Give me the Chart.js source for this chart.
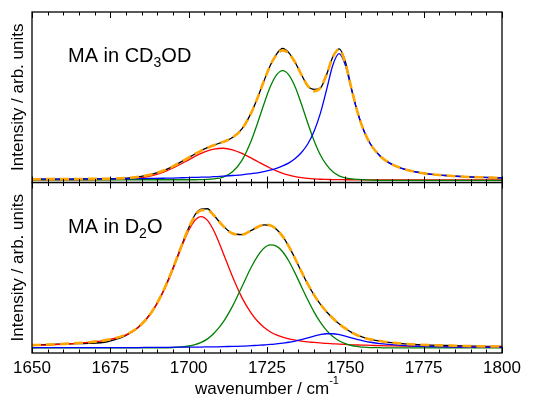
<!DOCTYPE html>
<html>
<head>
<meta charset="utf-8">
<script src="https://cdn.jsdelivr.net/npm/chart.js@4.4.1/dist/chart.umd.min.js"></script>
<style>
  html, body { margin: 0; padding: 0; background: #fff; }
</style>
</head>
<body>
<canvas id="irChart" width="541" height="398"></canvas>
<script>
// wavenumber grid (cm-1), shared by both panels
var wavenumbers = [1650, 1656, 1662, 1668, 1674, 1680, 1684, 1688, 1692, 1695, 1698,
  1700, 1702, 1704, 1706, 1708, 1711, 1714, 1717, 1720, 1722, 1724, 1726, 1728, 1730,
  1732, 1734, 1736, 1738, 1740, 1742, 1744, 1746, 1748, 1750, 1752, 1754, 1756, 1758,
  1761, 1764, 1768, 1772, 1777, 1782, 1788, 1794, 1800];
var xTicks = [1650, 1675, 1700, 1725, 1750, 1775, 1800];

// MA in CD3OD (top panel), arb. units
var cd3odData = [1.9, 2.0, 2.0, 2.1, 2.2, 2.6, 3.3, 4.7, 7.0, 9.5, 12.5,
  14.6, 16.7, 18.7, 20.4, 21.9, 23.8, 26.4, 31.4, 41.0, 49.7, 59.4, 68.5, 75.2, 78.6,
  76.0, 70.4, 63.2, 56.7, 54.6, 55.4, 63.2, 73.6, 78.4, 71.0, 54.8, 40.6, 30.0, 22.6,
  15.7, 11.5, 8.3, 6.4, 4.9, 4.1, 3.4, 3.0, 2.7];
var cd3odFit = [1.9, 2.0, 2.0, 2.1, 2.2, 2.6, 3.3, 4.7, 7.0, 9.5, 12.5,
  14.6, 16.7, 18.7, 20.4, 21.9, 23.8, 26.4, 31.4, 41.0, 49.7, 59.4, 68.5, 74.9, 77.5,
  75.6, 70.4, 63.2, 56.7, 53.5, 55.4, 63.2, 73.6, 78.0, 69.9, 54.8, 40.6, 30.0, 22.6,
  15.7, 11.5, 8.3, 6.4, 4.9, 4.1, 3.4, 3.0, 2.7];
var cd3odRed = [1.6, 1.6, 1.6, 1.6, 1.7, 2.0, 2.6, 3.9, 6.1, 8.5, 11.3,
  13.3, 15.3, 17.1, 18.6, 19.6, 20.1, 19.2, 17.1, 14.3, 12.3, 10.3, 8.5, 6.8, 5.4,
  4.3, 3.5, 2.9, 2.4, 2.1, 1.9, 1.8, 1.7, 1.7, 1.6, 1.6, 1.5, 1.5, 1.5,
  1.5, 1.5, 1.5, 1.5, 1.5, 1.5, 1.5, 1.5, 1.5];
var cd3odGreen = [1.6, 1.6, 1.6, 1.6, 1.6, 1.6, 1.6, 1.6, 1.6, 1.6, 1.6,
  1.6, 1.6, 1.7, 1.8, 2.1, 3.2, 6.3, 13.0, 24.7, 34.9, 45.9, 56.0, 63.0, 65.6,
  63.0, 56.0, 45.9, 34.9, 24.7, 16.3, 10.3, 6.3, 3.9, 2.7, 2.1, 1.8, 1.6, 1.4,
  1.3, 1.2, 1.2, 1.2, 1.2, 1.2, 1.2, 1.2, 1.2];
var cd3odBlue = [1.9, 2.0, 2.0, 2.1, 2.1, 2.2, 2.3, 2.4, 2.5, 2.6, 2.8,
  2.9, 3.0, 3.1, 3.2, 3.4, 3.7, 4.1, 4.5, 5.2, 5.7, 6.4, 7.2, 8.3, 9.7,
  11.5, 14.1, 17.6, 22.6, 29.9, 40.4, 54.3, 68.8, 75.6, 68.8, 54.3, 40.4, 29.9, 22.6,
  15.7, 11.5, 8.3, 6.4, 4.9, 4.1, 3.4, 3.0, 2.7];

// MA in D2O (bottom panel), arb. units
var d2oData = [4.6, 5.0, 5.4, 5.6, 6.6, 10.3, 15.3, 23.5, 36.7, 49.8, 64.3,
  73.3, 81.0, 84.4, 84.6, 80.8, 74.5, 70.1, 69.4, 71.9, 73.9, 75.2, 74.9, 72.6, 68.4,
  62.4, 55.3, 47.7, 40.5, 34.1, 28.7, 24.2, 20.4, 17.1, 14.4, 12.1, 10.3, 9.0, 8.0,
  7.0, 6.2, 5.5, 5.0, 4.6, 4.4, 4.1, 3.9, 3.8];
var d2oFit = [4.6, 5.0, 5.5, 6.3, 7.7, 10.8, 15.3, 23.5, 36.7, 49.8, 64.3,
  73.3, 80.2, 83.7, 83.7, 80.8, 74.5, 70.1, 69.4, 71.9, 73.9, 75.2, 74.9, 72.6, 68.4,
  62.4, 55.3, 47.7, 40.5, 34.1, 28.7, 24.2, 20.4, 17.1, 14.4, 12.1, 10.3, 9.0, 8.0,
  7.0, 6.2, 5.5, 5.0, 4.6, 4.4, 4.1, 3.9, 3.8];
var d2oRed = [4.5, 4.8, 5.4, 6.2, 7.6, 10.6, 15.1, 23.2, 36.3, 49.2, 63.3,
  71.8, 77.8, 80.0, 77.8, 71.8, 58.7, 44.7, 32.5, 23.2, 18.6, 15.1, 12.5, 10.6, 9.3,
  8.3, 7.6, 7.0, 6.5, 6.2, 5.9, 5.6, 5.4, 5.2, 5.0, 4.8, 4.7, 4.6, 4.5,
  4.3, 4.2, 4.1, 3.9, 3.8, 3.7, 3.6, 3.5, 3.5];
var d2oGreen = [3.0, 3.0, 3.0, 3.0, 3.0, 3.0, 3.0, 3.0, 3.0, 3.2, 3.6,
  4.1, 4.9, 6.2, 8.3, 11.4, 18.1, 27.5, 38.9, 50.4, 56.8, 61.4, 63.4, 62.7, 59.4,
  53.8, 46.7, 38.9, 31.2, 24.1, 18.1, 13.3, 9.7, 7.2, 5.5, 4.4, 3.8, 3.4, 3.2,
  3.1, 3.0, 3.0, 3.0, 3.0, 3.0, 3.0, 3.0, 3.0];
var d2oBlue = [3.1, 3.1, 3.1, 3.2, 3.2, 3.2, 3.2, 3.3, 3.3, 3.4, 3.4,
  3.4, 3.5, 3.5, 3.6, 3.6, 3.7, 3.9, 4.0, 4.3, 4.5, 4.7, 5.0, 5.3, 5.8,
  6.3, 7.0, 7.8, 8.8, 9.9, 10.8, 11.3, 11.3, 10.8, 9.9, 8.8, 7.8, 7.0, 6.3,
  5.5, 5.0, 4.5, 4.1, 3.8, 3.6, 3.5, 3.4, 3.3];

var FONT = '"Liberation Sans", Arial, Helvetica, sans-serif';

function pts(ys) {
  return ys.map(function (y, i) { return { x: wavenumbers[i], y: y }; });
}

function line(ys, axis, color, order, extra) {
  var ds = {
    data: pts(ys),
    yAxisID: axis,
    borderColor: color,
    borderWidth: 1.3,
    pointRadius: 0,
    fill: false,
    cubicInterpolationMode: 'monotone',
    order: order
  };
  for (var k in extra) ds[k] = extra[k];
  return ds;
}

function dashedFit(ys, axis) {
  return line(ys, axis, '#ffa500', 0, { borderWidth: 2.6, borderDash: [9, 5] });
}

// frame, inward ticks and the text with sub/superscripts
var framePlugin = {
  id: 'frame',
  afterDatasetsDraw: function (chart) {
    var ctx = chart.ctx, x = chart.scales.x, area = chart.chartArea;
    var panels = [chart.scales.yTop, chart.scales.yBot];
    ctx.save();
    ctx.strokeStyle = '#000';
    ctx.lineWidth = 1;
    for (var v = 1650; v <= 1800; v += 5) {
      var px = Math.round(x.getPixelForValue(v)) + 0.5;
      var len = v % 25 === 0 ? 6 : 3.5;
      panels.forEach(function (s) {
        ctx.beginPath();
        ctx.moveTo(px, s.top); ctx.lineTo(px, s.top + len);
        ctx.moveTo(px, s.bottom); ctx.lineTo(px, s.bottom - len);
        ctx.stroke();
      });
    }
    ctx.lineWidth = 1.3;
    panels.forEach(function (s) {
      ctx.strokeRect(area.left, s.top, area.right - area.left, s.bottom - s.top);
    });
    ctx.restore();
  },
  afterDraw: function (chart) {
    var ctx = chart.ctx;
    ctx.save();
    ctx.fillStyle = '#000';
    ctx.textBaseline = 'alphabetic';
    function run(parts, x0, y0) {
      var xx = x0;
      parts.forEach(function (p) {
        ctx.font = p[1] + 'px ' + FONT;
        ctx.fillText(p[0], xx, y0 + p[2]);
        xx += ctx.measureText(p[0]).width;
      });
      return xx - x0;
    }
    run([['MA in CD', 20, 0], ['3', 14, 5], ['OD', 20, 0]], 68, 62);
    run([['MA in D', 20, 0], ['2', 14, 5], ['O', 20, 0]], 68, 233);

    // x-axis title centred under the plot
    var area = chart.chartArea;
    ctx.font = '17px ' + FONT;
    var w1 = ctx.measureText('wavenumber / cm').width;
    ctx.font = '11px ' + FONT;
    var w2 = ctx.measureText('-1').width;
    var cx = (area.left + area.right) / 2;
    run([['wavenumber / cm', 17, 0], ['-1', 11, -10]], cx - (w1 + w2) / 2, 394);
    ctx.restore();
  }
};

function yAxis(weight) {
  return {
    type: 'linear',
    position: 'left',
    stack: 'panels',
    stackWeight: 1,
    weight: weight,
    min: 0,
    max: 100,
    grid: { display: false },
    border: { display: false },
    ticks: { display: false },
    title: {
      display: true,
      text: 'Intensity / arb. units',
      color: '#000',
      font: { family: FONT, size: 17 },
      padding: { top: 8, bottom: 0 }
    },
    afterFit: function (s) { s.width = 32; }
  };
}

new Chart(document.getElementById('irChart').getContext('2d'), {
  type: 'line',
  data: {
    datasets: [
      line(cd3odData, 'yTop', '#000000', 4),
      line(cd3odRed, 'yTop', '#ff0000', 3),
      line(cd3odGreen, 'yTop', '#008000', 2),
      line(cd3odBlue, 'yTop', '#0000ff', 1),
      dashedFit(cd3odFit, 'yTop'),
      line(d2oData, 'yBot', '#000000', 4),
      line(d2oRed, 'yBot', '#ff0000', 3),
      line(d2oGreen, 'yBot', '#008000', 2),
      line(d2oBlue, 'yBot', '#0000ff', 1),
      dashedFit(d2oFit, 'yBot')
    ]
  },
  options: {
    responsive: false,
    animation: false,
    devicePixelRatio: 1,
    layout: { padding: { top: 12, right: 39, bottom: 0, left: 0 } },
    plugins: {
      legend: { display: false },
      tooltip: { enabled: false }
    },
    scales: {
      x: {
        type: 'linear',
        min: 1650,
        max: 1800,
        grid: { display: false, drawTicks: false },
        border: { display: false },
        afterBuildTicks: function (s) {
          s.ticks = xTicks.map(function (v) { return { value: v }; });
        },
        ticks: {
          color: '#000',
          font: { family: FONT, size: 17 },
          padding: 5,
          maxRotation: 0,
          autoSkip: false,
          callback: function (v) { return String(v); }
        },
        afterFit: function (s) { s.height = 45; }
      },
      yBot: yAxis(0),
      yTop: yAxis(0)
    }
  },
  plugins: [framePlugin]
});
</script>
</body>
</html>
